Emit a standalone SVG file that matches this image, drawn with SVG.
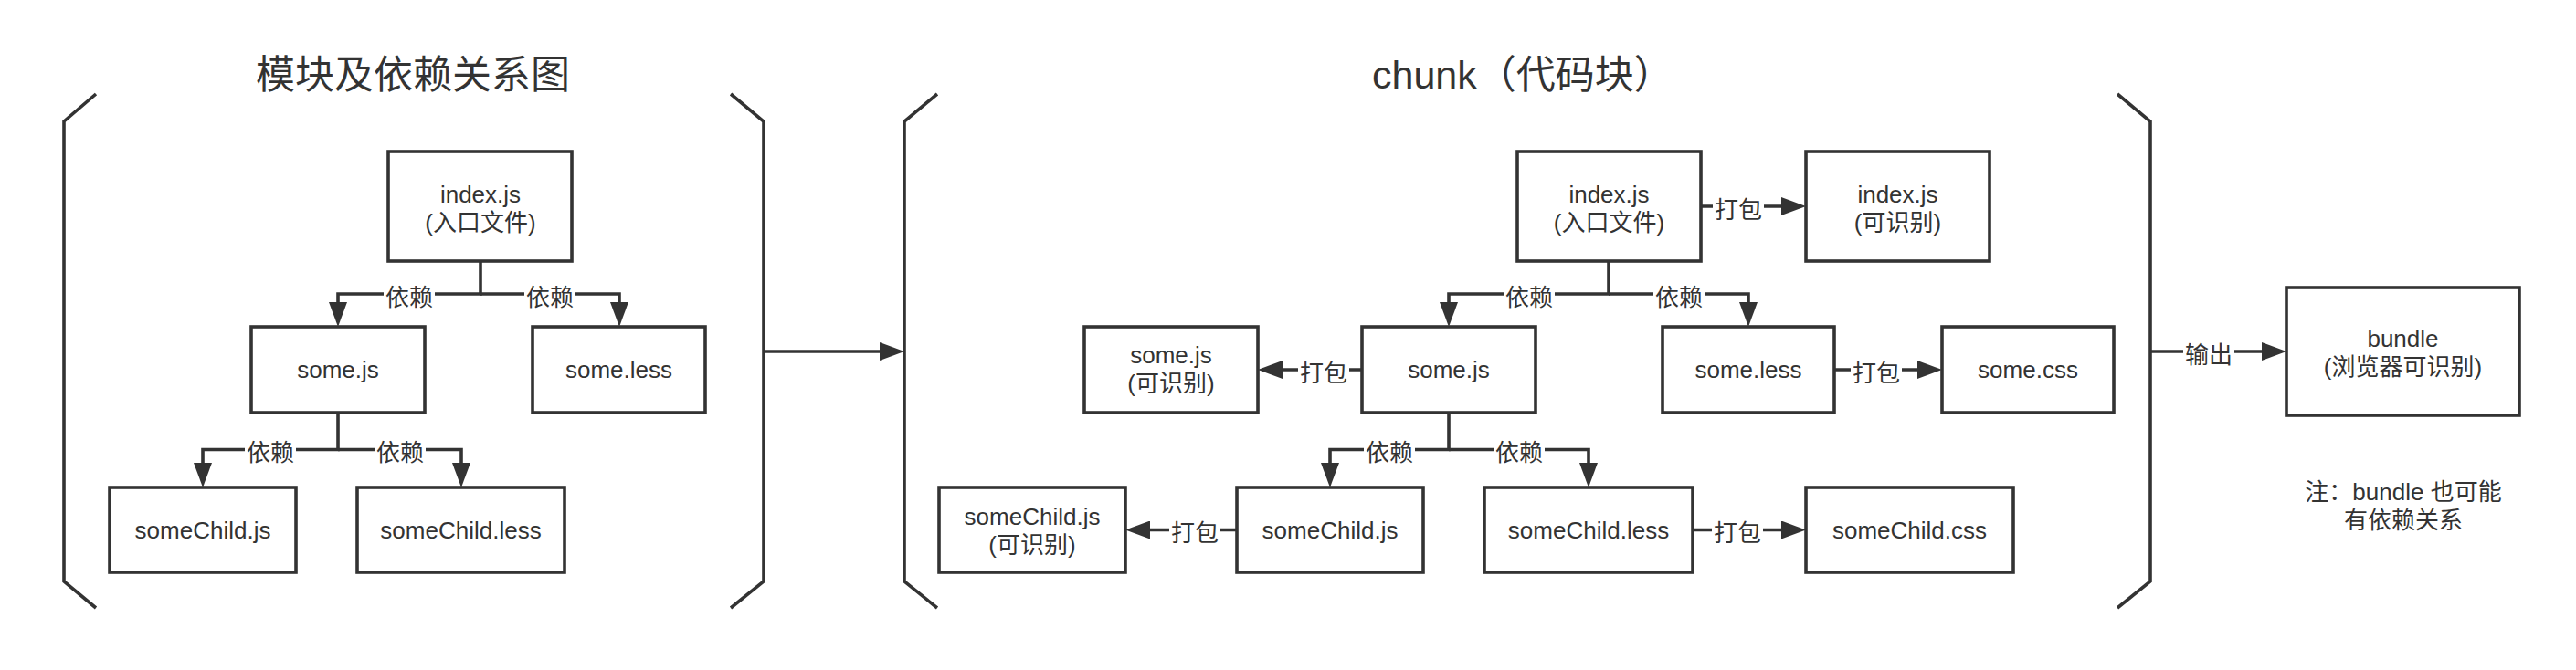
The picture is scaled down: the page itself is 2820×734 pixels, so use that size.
<svg xmlns="http://www.w3.org/2000/svg" width="2820" height="734" viewBox="0 0 2820 734">
<style>
.bx{fill:#fff;stroke:#333;stroke-width:3.6}
.ln{fill:none;stroke:#333;stroke-width:3.6}
.ar{fill:none;stroke:#333;stroke-width:3.6;marker-end:url(#ah)}
.br{fill:none;stroke:#333;stroke-width:3.6}
.t{font-family:"Liberation Sans","Noto Sans CJK SC",sans-serif;font-size:26px;fill:#333;text-anchor:middle}
.tt{font-family:"Liberation Sans","Noto Sans CJK SC",sans-serif;font-size:43px;fill:#333}
.lb{fill:#fff}
</style>
<defs>
<marker id="ah" viewBox="0 0 27 20" refX="1" refY="10" markerWidth="27" markerHeight="20" markerUnits="userSpaceOnUse" orient="auto">
<path d="M0,0 L27,10 L0,20 z" fill="#333"/>
</marker>
</defs>
<rect width="2820" height="734" fill="#fff"/>

<text class="tt" x="280" y="97">模块及依赖关系图</text>
<text class="tt" x="1502" y="97">chunk（代码块）</text>

<g id="brackets">
<path class="br" d="M105,103 L70,133 V637 L105,666"/>
<path class="br" d="M800,103 L836,133 V637 L800,666"/>
<path class="br" d="M1026,103 L990,133 V637 L1026,666"/>
<path class="br" d="M2318,103 L2354,133 V637 L2318,666"/>
</g>

<g id="connectors">
<path class="ar" d="M526,286 V322 H370 V332"/>
<path class="ar" d="M526,322 H678 V332"/>
<path class="ar" d="M370,452 V492.5 H222 V508"/>
<path class="ar" d="M370,492.5 H505 V508"/>

<path class="ar" d="M1761,286 V322 H1586 V332"/>
<path class="ar" d="M1761,322 H1914 V332"/>
<path class="ar" d="M1586,452 V492.5 H1456 V508"/>
<path class="ar" d="M1586,492.5 H1739 V508"/>

<path class="ar" d="M1862,226 H1951"/>
<path class="ar" d="M1491,405 H1403"/>
<path class="ar" d="M2008,405 H2100"/>
<path class="ar" d="M1354,580.5 H1258"/>
<path class="ar" d="M1852,580.5 H1951"/>

<path class="ar" d="M836,385 H964"/>
<path class="ar" d="M2354,385 H2477"/>

<g id="labels">
<rect class="lb" x="420" y="308" width="56" height="30"/><text class="t" x="448" y="335">依赖</text>
<rect class="lb" x="574" y="308" width="56" height="30"/><text class="t" x="602" y="335">依赖</text>
<rect class="lb" x="268" y="478" width="56" height="30"/><text class="t" x="296" y="505">依赖</text>
<rect class="lb" x="410" y="478" width="56" height="30"/><text class="t" x="438" y="505">依赖</text>

<rect class="lb" x="1646" y="308" width="56" height="30"/><text class="t" x="1674" y="335">依赖</text>
<rect class="lb" x="1810" y="308" width="56" height="30"/><text class="t" x="1838" y="335">依赖</text>
<rect class="lb" x="1493" y="478" width="56" height="30"/><text class="t" x="1521" y="505">依赖</text>
<rect class="lb" x="1635" y="478" width="56" height="30"/><text class="t" x="1663" y="505">依赖</text>

<rect class="lb" x="1875" y="212" width="56" height="30"/><text class="t" x="1903" y="239">打包</text>
<rect class="lb" x="1421" y="391" width="56" height="30"/><text class="t" x="1449" y="418">打包</text>
<rect class="lb" x="2026" y="391" width="56" height="30"/><text class="t" x="2054" y="418">打包</text>
<rect class="lb" x="1280" y="566" width="56" height="30"/><text class="t" x="1308" y="593">打包</text>
<rect class="lb" x="1874" y="566" width="56" height="30"/><text class="t" x="1902" y="593">打包</text>
<rect class="lb" x="2390" y="371" width="56" height="30"/><text class="t" x="2418" y="398">输出</text>
</g>
</g>

<g id="n-index"><rect class="bx" x="425" y="166" width="201" height="120"/><text class="t" x="526" y="222">index.js</text><text class="t" x="526" y="253">(入口文件)</text></g>
<g id="n-some-js"><rect class="bx" x="275" y="358" width="190" height="94"/><text class="t" x="370" y="414">some.js</text></g>
<g id="n-some-less"><rect class="bx" x="583" y="358" width="189" height="94"/><text class="t" x="677.5" y="414">some.less</text></g>
<g id="n-somechild-js"><rect class="bx" x="120" y="534" width="204" height="93"/><text class="t" x="222" y="590">someChild.js</text></g>
<g id="n-somechild-less"><rect class="bx" x="391" y="534" width="227" height="93"/><text class="t" x="504.5" y="590">someChild.less</text></g>

<g id="c-index"><rect class="bx" x="1661" y="166" width="201" height="120"/><text class="t" x="1761.5" y="222">index.js</text><text class="t" x="1761.5" y="253">(入口文件)</text></g>
<g id="c-index-out"><rect class="bx" x="1977" y="166" width="201" height="120"/><text class="t" x="2077.5" y="222">index.js</text><text class="t" x="2077.5" y="253">(可识别)</text></g>
<g id="c-some-js"><rect class="bx" x="1491" y="358" width="190" height="94"/><text class="t" x="1586" y="414">some.js</text></g>
<g id="c-some-js-out"><rect class="bx" x="1187" y="358" width="190" height="94"/><text class="t" x="1282" y="398">some.js</text><text class="t" x="1282" y="429">(可识别)</text></g>
<g id="c-some-less"><rect class="bx" x="1820" y="358" width="188" height="94"/><text class="t" x="1914" y="414">some.less</text></g>
<g id="c-some-css"><rect class="bx" x="2126" y="358" width="188" height="94"/><text class="t" x="2220" y="414">some.css</text></g>
<g id="c-somechild-js"><rect class="bx" x="1354" y="534" width="204" height="93"/><text class="t" x="1456" y="590">someChild.js</text></g>
<g id="c-somechild-js-out"><rect class="bx" x="1028" y="534" width="204" height="93"/><text class="t" x="1130" y="575">someChild.js</text><text class="t" x="1130" y="606">(可识别)</text></g>
<g id="c-somechild-less"><rect class="bx" x="1625" y="534" width="228" height="93"/><text class="t" x="1739" y="590">someChild.less</text></g>
<g id="c-somechild-css"><rect class="bx" x="1977" y="534" width="227" height="93"/><text class="t" x="2090.5" y="590">someChild.css</text></g>

<g id="bundle"><rect class="bx" x="2503" y="315" width="255" height="140"/><text class="t" x="2630.5" y="380">bundle</text><text class="t" x="2630.5" y="411">(浏览器可识别)</text></g>

<g id="note"><text class="t" x="2631" y="548">注：bundle 也可能</text><text class="t" x="2631" y="579">有依赖关系</text></g>
</svg>
